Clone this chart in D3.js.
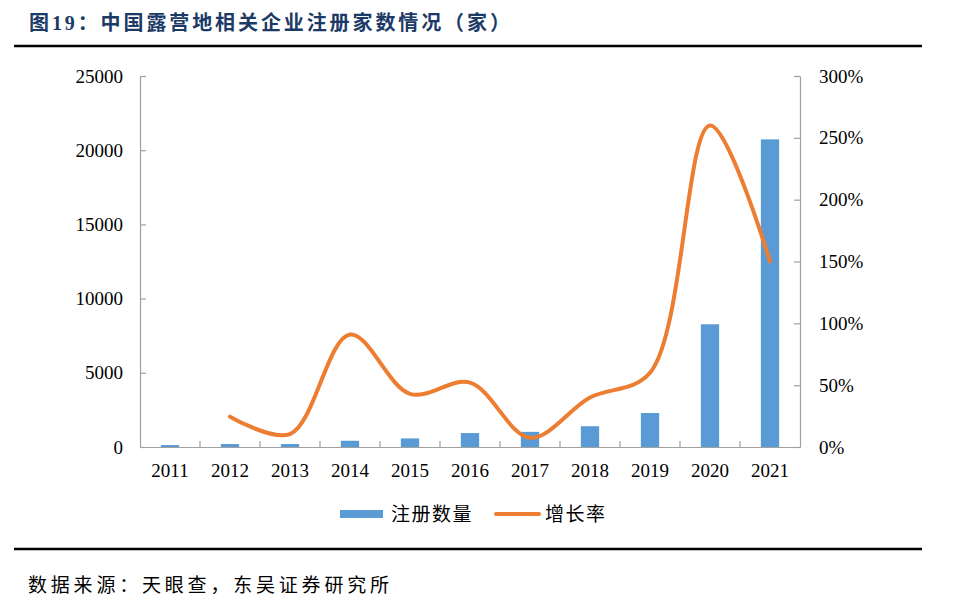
<!DOCTYPE html>
<html>
<head>
<meta charset="utf-8">
<script src="https://cdn.jsdelivr.net/npm/d3@7/dist/d3.min.js"></script>
<style>
  html, body { margin: 0; padding: 0; background: #fff; }
  svg { display: block; }
</style>
</head>
<body>
<svg id="chart" width="956" height="608"></svg>
<script>
// ---- data ----
const years = ["2011","2012","2013","2014","2015","2016","2017","2018","2019","2020","2021"];
const registrations = [130, 200, 200, 420, 580, 940, 1020, 1400, 2290, 8270, 20730];
const growthRate = [null, 24.5, 10.5, 91, 43, 52, 7.5, 40, 60, 260, 150];
const leftTicks = [0, 5000, 10000, 15000, 20000, 25000];
const rightTicks = [0, 50, 100, 150, 200, 250, 300];
const titleText = "图19：中国露营地相关企业注册家数情况（家）";
const sourceText = "数据来源：天眼查，东吴证券研究所";
const legendLabels = ["注册数量", "增长率"];

(function () {
const svg = d3.select("#chart");
const serif = "'Liberation Serif', 'Times New Roman', serif";
const cjk = "'Noto Sans CJK SC', sans-serif";

const pL = 140, pR = 800, pT = 76, pB = 447;

const xOuter = d3.scaleBand().domain(years).range([pL, pR]).padding(0);
const x = d3.scaleBand().domain(years).range([pL, pR]).paddingInner(0.695).paddingOuter(0.3475);
const yL = d3.scaleLinear().domain([0, 25000]).range([pB, pT]);
const yR = d3.scaleLinear().domain([0, 300]).range([pB, pT]);

// title
svg.append("text")
  .attr("x", 29).attr("y", 30)
  .attr("font-family", serif + ", " + cjk)
  .attr("font-weight", "bold")
  .attr("font-size", 20)
  .attr("letter-spacing", 2.9)
  .attr("fill", "#1b3a66")
  .text(titleText);

svg.append("line").attr("x1", 14).attr("x2", 922).attr("y1", 46).attr("y2", 46)
  .attr("stroke", "#000").attr("stroke-width", 2.6);
svg.append("line").attr("x1", 14).attr("x2", 922).attr("y1", 549).attr("y2", 549)
  .attr("stroke", "#000").attr("stroke-width", 2.6);

// source
svg.append("text")
  .attr("x", 28).attr("y", 592)
  .attr("font-family", cjk)
  .attr("font-size", 19)
  .attr("letter-spacing", 3.8)
  .attr("fill", "#000")
  .text(sourceText);

// bars
svg.append("g").selectAll("rect").data(years).join("rect")
  .attr("x", d => x(d))
  .attr("width", x.bandwidth())
  .attr("y", (d, i) => yL(registrations[i]))
  .attr("height", (d, i) => pB - yL(registrations[i]))
  .attr("fill", "#5B9BD5");

// axes
const axisColor = "#a0a0a0";
const gL = svg.append("g").attr("transform", `translate(${pL},0)`)
  .call(d3.axisLeft(yL).tickValues(leftTicks).tickSizeInner(-6).tickSizeOuter(0).tickPadding(17).tickFormat(d3.format("d")));
const gR = svg.append("g").attr("transform", `translate(${pR},0)`)
  .call(d3.axisRight(yR).tickValues(rightTicks).tickSizeInner(-6).tickSizeOuter(0).tickPadding(19).tickFormat(d => d + "%"));
const gB = svg.append("g").attr("transform", `translate(0,${pB})`)
  .call(d3.axisBottom(xOuter).tickSize(0).tickPadding(17));

[gL, gR, gB].forEach(g => {
  g.select(".domain").attr("stroke", axisColor).attr("stroke-width", 1.2);
  g.selectAll(".tick line").attr("stroke", axisColor).attr("stroke-width", 1.2);
  g.selectAll("text").attr("font-family", serif).attr("font-size", 19).attr("fill", "#000");
});

// category boundary ticks on x axis
svg.append("g").selectAll("line").data(years.slice(1)).join("line")
  .attr("x1", d => xOuter(d)).attr("x2", d => xOuter(d))
  .attr("y1", pB).attr("y2", pB - 6)
  .attr("stroke", axisColor).attr("stroke-width", 1.2);

// growth line
const pts = years.map((d, i) => ({ d, v: growthRate[i] })).filter(p => p.v !== null);
const line = d3.line()
  .x(p => x(p.d) + x.bandwidth() / 2)
  .y(p => yR(p.v))
  .curve(d3.curveCatmullRom.alpha(0.5));
svg.append("path").datum(pts)
  .attr("d", line)
  .attr("fill", "none")
  .attr("stroke", "#ED7D31")
  .attr("stroke-width", 4)
  .attr("stroke-linecap", "round")
  .attr("stroke-linejoin", "round");

// legend
const lg = svg.append("g");
lg.append("rect").attr("x", 340).attr("y", 510).attr("width", 43).attr("height", 8).attr("fill", "#5B9BD5");
lg.append("text").attr("x", 391).attr("y", 514).attr("dy", "0.35em")
  .attr("font-family", cjk).attr("font-size", 19).attr("letter-spacing", 1.5).attr("fill", "#000")
  .text(legendLabels[0]);
lg.append("line").attr("x1", 496).attr("x2", 539).attr("y1", 514).attr("y2", 514)
  .attr("stroke", "#ED7D31").attr("stroke-width", 4).attr("stroke-linecap", "round");
lg.append("text").attr("x", 545).attr("y", 514).attr("dy", "0.35em")
  .attr("font-family", cjk).attr("font-size", 19).attr("letter-spacing", 1.5).attr("fill", "#000")
  .text(legendLabels[1]);
})();
</script>
</body>
</html>
